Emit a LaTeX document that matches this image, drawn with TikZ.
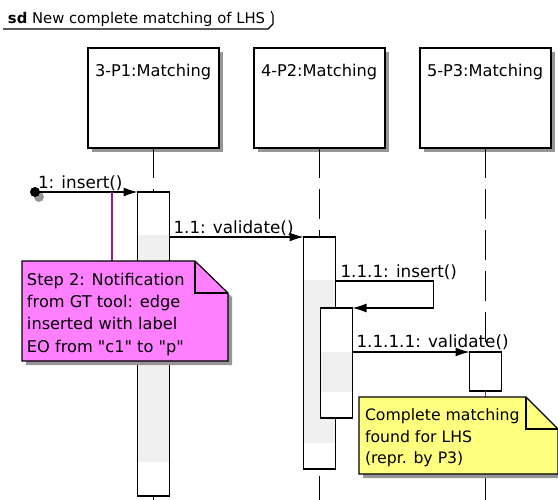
\documentclass[tikz,border=0pt]{standalone}
\usepackage{fontspec}
\setmainfont{DejaVu Sans}[Ligatures=TeXOff]
\usetikzlibrary{arrows.meta,calc,shadows}
\definecolor{notepink}{RGB}{255,128,255}
\definecolor{noteyellow}{RGB}{255,255,128}
\definecolor{anchorpurple}{RGB}{140,30,140}
\definecolor{shadowgray}{RGB}{150,150,150}
\definecolor{actgray}{RGB}{240,240,240}
\begin{document}
\begin{tikzpicture}[x=1pt,y=-1pt,
  every node/.style={inner sep=0pt, outer sep=0pt},
  head/.style={draw, line width=1.2pt, fill=white, minimum width=131pt, minimum height=100pt, anchor=north west,
    drop shadow={shadow xshift=4pt, shadow yshift=-4pt, fill=shadowgray, opacity=1}},
  headlabel/.style={anchor=base west, font=\fontsize{16.2}{20}\selectfont},
  lifeline/.style={line width=1.2pt, dash pattern=on 30pt off 11pt},
  act/.style={draw, line width=1.2pt, fill=white, minimum width=32pt, anchor=north},
  msg/.style={line width=1.1pt, -{Latex[length=14pt,width=9pt]}},
  msglabel/.style={anchor=base west, font=\fontsize{16.8}{20}\selectfont},
  notetext/.style={anchor=north west, align=left, font=\fontsize{16.2}{22.3}\selectfont},
  anchorline/.style={line width=1.2pt, draw=anchorpurple},
  notebody/.style={draw, line width=1.2pt, line join=miter},
]
\useasboundingbox (0,0) rectangle (558,499);

% frame title
\node[anchor=base west, font=\fontsize{14.8}{18}\selectfont] (title) at (8,23) {\textbf{sd} New complete matching of LHS};
\draw[line width=1.1pt] (3,29) -- (268,29) -- (273,24) -- (273,15) -- (271,11);

% lifeline heads
\node[head] (h1) at (88,48) {};
\node[head] (h2) at (254,48) {};
\node[head] (h3) at (420,48) {};
\node[headlabel] (l1) at ($(h1.north west)+(7,28)$) {3-P1:Matching};
\node[headlabel] (l2) at ($(h2.north west)+(7,28)$) {4-P2:Matching};
\node[headlabel] (l3) at ($(h3.north west)+(7,28)$) {5-P3:Matching};

% lifelines
\coordinate (e1) at (h1.south |- 0,505);
\coordinate (e2) at (h2.south |- 0,505);
\coordinate (e3) at (h3.south |- 0,505);
\draw[lifeline] (h1.south) -- (e1);
\draw[lifeline] (h2.south) -- (e2);
\draw[lifeline] (h3.south) -- (e3);

% activations
\node[act, minimum height=304pt] (a1) at (h1.south |- 0,192) {};
\fill[actgray] ($(a1.north west)+(0.6,43)$) rectangle ($(a1.north east)+(-0.6,270)$);
\node[act, minimum height=232pt] (a2) at (h2.south |- 0,237) {};
\fill[actgray] ($(a2.north west)+(0.6,43)$) rectangle ($(a2.north east)+(-0.6,206)$);
\node[act, anchor=north west, minimum height=110pt] (a3) at ($(a2.north west)+(17,71)$) {};
\fill[actgray] ($(a3.north west)+(0.6,44)$) rectangle ($(a3.north east)+(-0.6,84)$);
\node[act, minimum height=39pt] (a4) at (h3.south |- 0,352) {};

% start point
\fill[shadowgray] (39,197) circle (5pt);
\node[circle, fill=black, minimum size=10pt] (s0) at (35,192) {};

% messages
\draw[msg] (s0.center) -- (a1.north west);
\node[msglabel] (m1) at (38,188) {1: insert()};
\draw[msg] (a1.east |- a2.north) -- (a2.north west);
\node[msglabel] (m2) at ($(a1.east |- a2.north)+(4,-4)$) {1.1: validate()};
\draw[msg] ($(a2.north east)+(0,44)$) -- ++(98,0) |- (a3.north east);
\node[msglabel] (m3) at ($(a2.north east)+(5,40)$) {1.1.1: insert()};
\draw[msg] (a3.east |- a4.north) -- (a4.north west);
\node[msglabel] (m4) at ($(a3.east |- a4.north)+(4,-5)$) {1.1.1.1: validate()};

% pink note
\coordinate (n1top) at (112,261);
\coordinate (p1) at (112,192);
\draw[anchorline] (p1) -- (n1top);
\fill[shadowgray, xshift=4pt, yshift=-4pt] (22,261) -- (195,261) -- (228,293) -- (228,361) -- (22,361) -- cycle;
\filldraw[notebody, fill=notepink] (22,261) -- (195,261) -- (228,293) -- (228,361) -- (22,361) -- cycle;
\draw[notebody] (195,261) -- (195,293) -- (228,293);
\node[notetext] (t1) at (27,273) {Step 2: Notification\\from GT tool: edge\\inserted with label\\EO from "c1" to "p"};

% yellow note
\coordinate (n2top) at (a4.south |- 0,397);
\draw[anchorline] (a4.south) -- (n2top);
\fill[shadowgray, xshift=4pt, yshift=-4pt] (359,397) -- (526,397) -- (558,429) -- (558,474) -- (359,474) -- cycle;
\filldraw[notebody, fill=noteyellow] (359,397) -- (526,397) -- (558,429) -- (558,474) -- (359,474) -- cycle;
\draw[notebody] (526,397) -- (526,429) -- (558,429);
\node[notetext, font=\fontsize{15.7}{21.5}\selectfont] (t2) at (365,409) {Complete matching\\found for LHS\\(repr. by P3)};
\end{tikzpicture}
\end{document}
